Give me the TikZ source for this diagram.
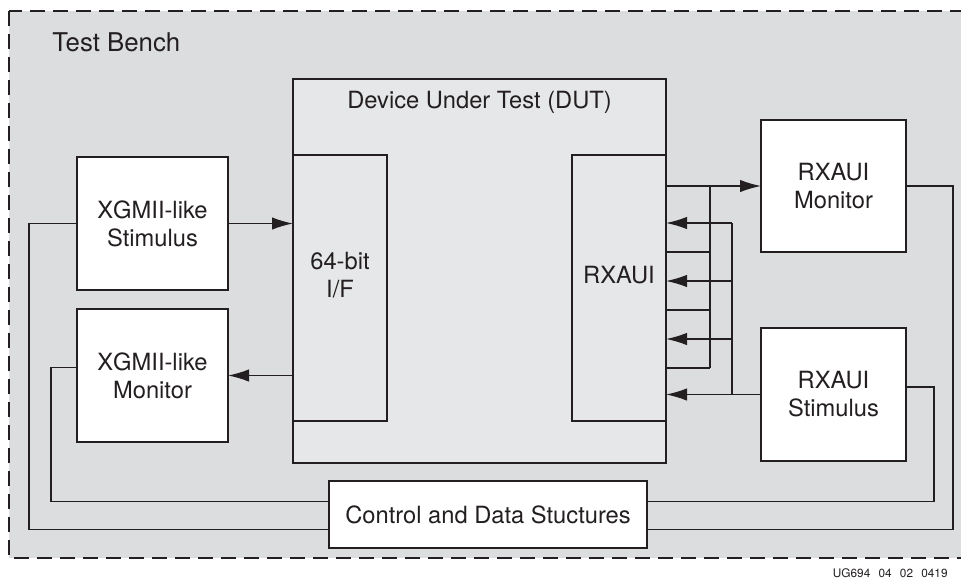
\documentclass[tikz,border=0pt]{standalone}
\usepackage{fontspec}
\setmainfont{TeX Gyre Heros}
\usetikzlibrary{arrows.meta}
\definecolor{ink}{HTML}{231F20}
\definecolor{benchgray}{HTML}{DCDDDF}
\definecolor{dutgray}{HTML}{E6E7E8}
\tikzset{
  >={Latex[length=10.5pt,width=6.2pt]},
  txt/.style={text=ink,inner sep=0pt,align=center,font=\fontsize{11.85}{14}\selectfont},
  blk/.style={txt,draw=ink,fill=white,line width=.65pt,outer sep=0pt,anchor=north west},
  sz/.style 2 args={minimum width=#1*.5pt,minimum height=#2*.5pt},
  wire/.style={draw=ink,line width=.65pt}
}

\begin{document}
\begin{tikzpicture}[x=.5pt,y=-.5pt]
  \useasboundingbox (0,0) rectangle (961,579);
  \fill[white] (0,0) rectangle (961,579);
  % test bench
  \draw[ink,fill=benchgray,line width=.7pt,dash pattern=on 7.5pt off 4pt]
    (9,11) rectangle (975,558);
  \node[txt,anchor=base west,font=\fontsize{12.9}{15}\selectfont] (tb) at (52,51) {Test Bench};
  % DUT
  \node[blk,fill=dutgray,sz={373}{384}] (dut) at (293,79) {};
  \node[txt,anchor=base] (dutlbl) at ([yshift=-14.5pt]dut.north) {Device Under Test (DUT)};
  \node[blk,fill=dutgray,sz={94}{266}] (ifb) at (293,155) {};
  \node[txt] (ifblbl) at ([yshift=6.5pt]ifb.center) {64-bit\\I/F};
  \node[blk,fill=dutgray,sz={94}{266}] (rxaui) at (572,155) {};
  \node[txt] (rxauilbl) at ([yshift=6.5pt]rxaui.center) {RXAUI};
  % stimulus and monitors
  \node[blk,sz={151}{133}] (xstim) at (77,157) {XGMII-like\\Stimulus};
  \node[blk,sz={151}{133}] (xmon) at (77,309) {XGMII-like\\Monitor};
  \node[blk,sz={145}{132}] (rmon) at (761,120) {RXAUI\\Monitor};
  \node[blk,sz={145}{133}] (rstim) at (761,328) {RXAUI\\Stimulus};
  \node[blk,sz={318}{67}] (ctrl) at (329,481) {Control and Data Stuctures};
  \node[text=ink,inner sep=0pt,anchor=base east,font=\fontsize{5.9}{7}\selectfont]
    (fig) at (948,577) {UG694\hspace{.7em}04\hspace{.7em}02\hspace{.7em}0419};

  % 64-bit side
  \draw[wire,->] (xstim.east) -- (xstim.east -| ifb.west);
  \draw[wire,->] (xmon.east -| ifb.west) -- (xmon.east);
  % RXAUI lanes
  \coordinate (obus) at (710,368);
  \coordinate (ibus) at (732,223);
  \draw[wire,->] (rxaui.east |- rmon.west) -- (rmon.west);
  \draw[wire] (rmon.west -| obus) -- (obus);
  \foreach \y in {252,310,368}
    \draw[wire] (rxaui.east |- 0,\y) -- (obus |- 0,\y);
  \draw[wire] (ibus) -- (rstim.west -| ibus);
  \foreach \y in {223,281,339}
    \draw[wire,->] (ibus |- 0,\y) -- (rxaui.east |- 0,\y);
  \draw[wire,->] (rstim.west) -- (rstim.west -| rxaui.east);
  % control
  \draw[wire] (xstim.west) -- ++(-48,0) |- ([yshift=-7.5pt]ctrl.west);
  \draw[wire] ([yshift=4pt]xmon.west) -- ++(-26,0) |- ([yshift=6.5pt]ctrl.west);
  \draw[wire] (rmon.east) -- ++(47,0) |- ([yshift=-7.5pt]ctrl.east);
  \draw[wire] ([yshift=3.75pt]rstim.east) -- ++(28,0) |- ([yshift=6.5pt]ctrl.east);
\end{tikzpicture}
\end{document}
